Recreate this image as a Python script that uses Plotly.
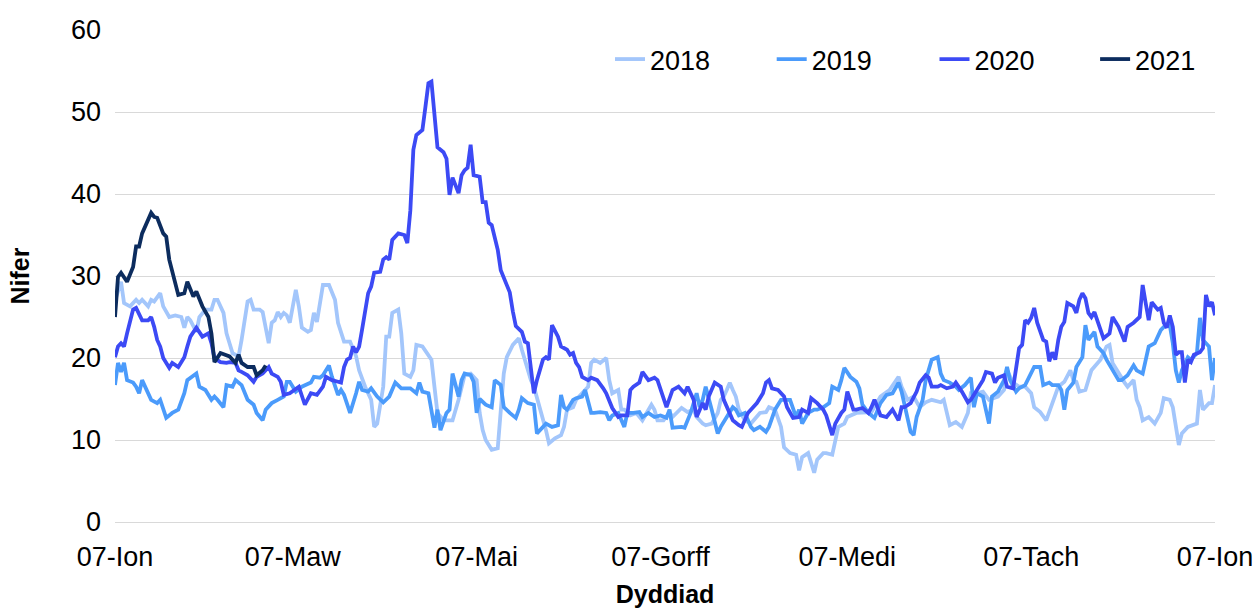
import plotly.graph_objects as go

# Day offsets from 07-Jan and values
days_2018 = [0,2,3,5,7,8,9,11,12,13,15,16,18,20,22,23,24,25,27,28,30,32,33,34,36,37,38,39,41,42,44,45,46,48,49,51,52,53,54,55,56,57,58,60,61,62,64,65,66,67,69,71,73,74,76,78,80,81,83,85,86,87,89,90,91,92,94,95,96,98,99,100,102,104,105,106,107,109,111,112,114,116,118,120,121,122,123,124,125,127,128,129,130,132,133,134,135,137,138,139,141,143,144,146,148,149,150,152,153,155,157,158,159,161,163,164,165,167,168,169,171,173,175,178,179,180,182,184,185,188,190,192,193,195,196,198,200,201,202,203,204,205,206,207,209,211,212,214,216,217,219,221,222,224,226,227,228,230,232,233,235,236,238,239,240,242,243,246,248,251,254,257,260,261,263,265,267,269,271,274,275,277,279,281,283,284,286,288,290,293,295,296,298,300,302,304,305,307,309,311,313,315,317,318,319,320,322,324,325,327,329,330,331,333,335,336,338,339,340,341,343,345,347,348,350,351,352,353,354,356,359,360,361,363,364,365]
vals_2018 = [27.0,29.3,26.7,26.3,27.1,26.7,27.1,26.3,27.1,26.9,27.9,26.3,25.0,25.2,25.0,23.7,25.0,24.6,23.2,25.0,25.9,25.9,27.1,27.1,25.5,23.0,21.8,20.6,20.2,22.2,26.9,27.1,25.9,25.9,25.6,21.8,24.3,24.6,25.6,25.0,25.5,25.2,24.3,28.3,26.3,23.7,23.2,23.4,25.5,24.4,28.9,28.9,27.1,24.3,22.0,22.0,20.2,18.5,16.5,14.9,11.6,12.0,16.5,22.6,22.6,25.5,25.9,23.0,18.1,17.7,18.5,21.6,21.4,20.2,19.8,16.5,13.3,12.4,12.4,12.4,14.9,17.9,18.1,17.3,13.3,11.2,10.0,9.3,8.8,9.0,13.3,18.1,20.1,21.6,22.0,22.4,21.0,18.5,17.3,16.5,14.0,11.2,9.6,10.2,10.6,11.6,13.7,14.0,14.9,15.7,16.5,19.4,19.8,19.4,20.0,17.3,15.7,16.1,13.7,13.7,13.0,13.3,12.4,14.3,13.7,12.4,12.4,13.4,12.8,13.9,13.4,13.7,12.8,12.0,11.8,12.0,13.3,14.9,15.3,16.1,17.0,16.1,15.3,13.7,12.4,12.0,12.4,13.3,13.4,14.0,13.7,11.6,9.1,8.4,8.2,6.3,7.9,8.4,6.0,7.6,8.4,8.4,8.2,10.0,11.6,12.0,12.8,13.3,13.3,13.4,15.3,16.1,17.7,16.5,14.9,15.3,14.0,14.6,14.9,14.6,14.9,11.8,12.2,11.6,13.3,15.7,15.7,15.9,14.9,15.3,16.1,18.5,17.0,16.5,16.5,15.7,14.0,13.4,12.4,14.5,16.5,17.1,18.5,17.3,17.1,15.9,16.1,18.5,18.9,19.8,21.4,21.6,19.4,18.1,17.0,16.5,17.3,14.9,14.0,12.4,12.8,12.0,13.3,15.1,14.9,14.0,11.6,9.4,10.8,11.6,12.0,16.1,13.7,14.5,14.5,16.7]

days_2019 = [0,1,2,3,4,6,7,8,9,11,12,14,15,17,19,21,23,24,27,28,30,32,33,34,36,37,39,40,42,44,46,47,49,50,52,54,56,57,58,60,62,65,66,68,69,71,72,74,75,76,78,80,81,82,84,85,87,89,91,93,95,96,98,100,101,102,104,106,107,108,110,111,112,114,115,116,118,119,120,121,123,125,126,128,129,131,133,134,135,137,139,140,142,143,145,147,148,149,150,152,153,155,156,158,159,161,163,164,165,167,169,170,172,174,175,177,179,181,183,184,185,188,189,191,193,194,195,196,198,200,201,203,205,206,207,209,211,212,214,216,217,219,221,222,224,226,227,228,230,232,233,235,236,237,238,240,241,242,244,246,247,248,250,252,254,256,258,260,261,263,264,265,266,268,269,271,273,274,275,277,279,280,282,284,285,286,288,290,291,293,295,296,297,299,300,302,304,305,307,308,310,311,313,314,315,316,318,319,321,322,323,325,326,328,329,331,333,334,336,338,339,341,342,343,345,347,348,350,351,352,353,354,356,357,359,360,361,363,364,365]
vals_2019 = [16.7,19.4,18.3,19.4,17.3,17.0,16.5,15.7,17.3,15.7,14.9,14.5,14.9,12.7,13.3,13.7,15.7,17.3,18.1,16.5,16.1,14.9,15.3,14.9,14.0,16.7,16.5,17.3,16.7,14.9,14.3,13.3,12.4,13.7,14.5,14.9,15.3,17.1,17.1,15.9,16.5,17.0,17.7,17.6,17.9,19.1,17.7,15.5,16.1,15.5,13.3,15.7,17.1,16.1,15.9,16.3,15.3,14.6,15.3,17.0,16.3,16.3,16.3,15.7,17.0,15.9,15.7,11.5,13.7,11.2,13.3,13.7,18.1,15.3,17.3,18.1,17.9,17.1,13.3,15.0,14.3,14.0,17.3,16.7,14.0,13.3,12.7,13.7,15.1,14.5,14.3,10.8,11.5,12.0,11.6,11.8,15.5,14.0,13.7,14.9,15.1,15.3,16.1,13.3,13.3,13.4,13.3,12.4,13.0,13.3,11.6,13.3,13.3,13.4,12.8,13.3,12.8,13.0,12.7,13.7,11.5,11.6,11.5,13.3,15.7,14.0,14.9,16.5,13.7,10.8,11.6,12.8,14.0,13.7,13.0,13.3,11.6,11.2,11.6,11.0,11.6,13.7,14.9,14.9,14.9,12.8,13.7,12.0,13.3,13.7,13.7,14.0,14.3,14.5,16.5,16.1,17.3,18.8,17.7,17.1,16.3,14.3,13.3,12.7,14.5,15.5,15.7,17.0,15.9,12.8,11.0,10.6,12.8,14.9,17.3,19.8,20.1,18.1,17.3,17.0,16.5,16.1,16.7,17.6,14.0,15.7,15.3,12.0,15.3,15.9,17.3,18.9,17.3,15.9,16.3,16.7,18.1,18.9,18.9,16.7,17.0,16.7,16.7,16.1,13.7,16.1,17.0,18.9,20.1,24.0,22.2,23.2,21.4,20.6,19.8,18.5,17.3,17.3,17.9,19.1,18.5,18.1,19.8,21.4,21.8,23.4,23.8,24.0,21.8,18.5,17.0,18.5,20.1,19.8,20.6,24.9,22.2,21.4,17.3,20.0]

days_2020 = [0,1,2,3,4,6,7,8,9,11,12,13,14,15,16,18,19,21,23,24,25,27,28,29,31,32,33,35,37,38,40,41,42,44,46,47,49,51,52,54,55,56,58,60,61,63,65,67,69,70,72,74,75,76,77,78,79,80,81,82,84,85,86,88,89,90,91,92,94,96,97,98,99,100,102,103,104,105,106,107,109,110,111,112,114,115,116,117,118,119,121,122,123,124,125,127,128,129,131,132,133,135,136,137,139,140,142,143,144,145,147,148,150,151,152,153,154,155,157,158,160,162,163,165,167,168,170,171,172,174,175,177,179,180,182,183,185,187,188,189,190,192,193,195,196,197,199,201,202,203,205,207,208,210,212,213,215,216,217,218,220,222,223,225,227,228,230,231,233,235,236,237,238,239,241,242,243,245,246,248,250,251,252,253,254,256,258,260,261,262,264,266,267,269,270,271,273,274,276,278,279,281,283,284,286,288,289,291,292,293,295,296,298,299,300,301,302,303,304,305,306,308,309,310,311,312,313,314,315,316,318,319,320,321,322,323,324,325,326,328,330,331,333,335,336,338,340,341,342,343,344,346,347,348,349,350,351,352,353,354,355,356,357,358,360,361,362,363,364,365]
vals_2020 = [20.1,21.4,21.8,21.4,23.0,25.9,26.1,25.2,24.6,24.6,25.0,23.8,22.2,21.4,20.0,18.8,19.4,18.9,20.1,21.4,22.6,23.7,23.2,22.6,23.0,21.8,20.0,19.5,19.4,19.5,19.4,18.5,18.3,17.9,17.1,17.7,18.1,18.9,18.1,17.7,17.1,15.5,15.7,16.3,16.5,14.3,15.7,15.5,16.5,17.7,17.3,17.1,17.0,18.9,19.8,20.0,21.4,20.7,21.4,23.5,27.9,28.7,30.4,30.5,32.0,32.3,32.0,34.4,35.2,35.0,34.0,38.0,45.4,47.2,47.8,50.6,53.5,53.7,50.2,45.7,45.1,44.3,39.9,42.0,40.1,42.3,42.9,43.2,46.0,42.3,42.1,39.0,39.0,36.5,36.2,33.2,30.7,29.8,28.0,25.7,23.9,23.2,22.0,21.8,15.7,17.3,19.8,20.1,19.8,24.0,22.6,21.4,21.0,20.4,20.6,19.4,18.9,17.7,17.3,17.6,17.3,16.3,15.7,13.9,12.8,13.0,13.0,16.1,16.5,17.0,18.3,17.3,17.6,17.3,14.9,14.0,16.1,16.5,16.1,15.7,16.5,14.9,12.8,14.5,13.7,15.3,17.0,16.5,14.9,14.0,12.4,11.8,11.6,13.3,14.0,14.5,15.7,17.0,17.3,16.3,16.1,15.3,14.0,12.7,12.8,13.7,13.3,15.1,14.5,13.7,13.0,11.6,10.6,12.0,13.3,13.7,15.9,13.7,13.7,13.9,13.3,14.0,14.9,14.0,13.0,12.8,13.7,12.4,14.0,14.0,14.5,15.9,17.0,17.9,17.6,16.5,16.5,16.7,16.3,16.5,17.0,15.9,14.6,14.9,16.1,17.3,18.3,18.1,17.0,17.6,17.9,16.5,16.3,18.9,21.2,21.6,24.6,24.3,24.9,26.1,24.3,22.2,22.0,19.6,20.7,19.8,22.2,23.8,24.4,26.7,26.3,25.5,27.1,27.9,27.3,25.5,25.0,25.6,24.6,22.4,23.0,25.0,23.8,22.0,23.8,24.3,25.0,28.9,26.7,24.6,26.8,25.9,26.1,24.3,23.7,25.2,23.8,20.4,20.7,20.7,17.0,19.8,19.5,20.4,20.7,21.2,27.7,26.3,26.8,25.2]

days_2021 = [0,1,2,4,6,7,8,9,12,13,14,16,17,18,21,23,24,26,27,29,31,32,33,35,38,40,41,42,44,46,47,49,50]
vals_2021 = [25.0,29.9,30.4,29.3,31.1,33.6,33.6,35.2,37.7,37.2,37.1,35.2,34.8,32.0,27.7,27.9,29.3,27.5,28.1,26.3,25.0,23.0,19.5,20.6,20.2,19.4,20.4,19.4,18.9,18.9,17.9,18.5,19.1]

series_names = ["2018", "2019", "2020", "2021"]
series_days = [days_2018, days_2019, days_2020, days_2021]
series_vals = [vals_2018, vals_2019, vals_2020, vals_2021]
series_colors = ["#a3c6fb", "#4b9bfb", "#3c4af5", "#0c2c5e"]
legend_x = [0.45, 0.597, 0.745, 0.891]

tick_days = [0, 59, 120, 181, 243, 304, 365]
tick_labels = ["07-Ion", "07-Maw", "07-Mai", "07-Gorff", "07-Medi", "07-Tach", "07-Ion"]

FONT = "Arial, Liberation Sans, sans-serif"

fig = go.Figure()
legend_layout = {}
for i, (name, d, v, c) in enumerate(zip(series_names, series_days, series_vals, series_colors)):
    key = "legend" if i == 0 else f"legend{i+1}"
    fig.add_trace(go.Scatter(x=d, y=v, mode="lines", name=name,
                             line=dict(color=c, width=3.8), legend=key))
    legend_layout[key] = dict(orientation="h", x=legend_x[i], xanchor="left",
                              y=0.94, yanchor="middle", font=dict(size=27),
                              bgcolor="rgba(0,0,0,0)", borderwidth=0)

fig.update_layout(
    width=1258, height=608,
    margin=dict(l=115, r=43, t=30, b=86, autoexpand=False),
    paper_bgcolor="white", plot_bgcolor="white",
    font=dict(family=FONT, size=27, color="#000000"),
    showlegend=True,
    xaxis=dict(range=[0, 365], tickmode="array", tickvals=tick_days, ticktext=tick_labels,
               showgrid=False, zeroline=False, showline=False, ticks="",
               ticklabelstandoff=16, automargin=False,
               title=dict(text="<b>Dyddiad</b>", font=dict(size=25), standoff=16)),
    yaxis=dict(range=[0, 60], dtick=10, showgrid=True, gridcolor="#d9d9d9", gridwidth=1,
               zeroline=True, zerolinecolor="#d9d9d9", zerolinewidth=1,
               showline=False, ticks="", ticklabelstandoff=13, automargin=False,
               title=dict(text="<b>Nifer</b>", font=dict(size=25), standoff=34)),
    **legend_layout,
)

fig.write_html(
    "out.html",
    config={"displayModeBar": False},
    post_script="document.body.style.margin='0px';document.documentElement.style.overflow='hidden';document.body.style.overflow='hidden';",
)
